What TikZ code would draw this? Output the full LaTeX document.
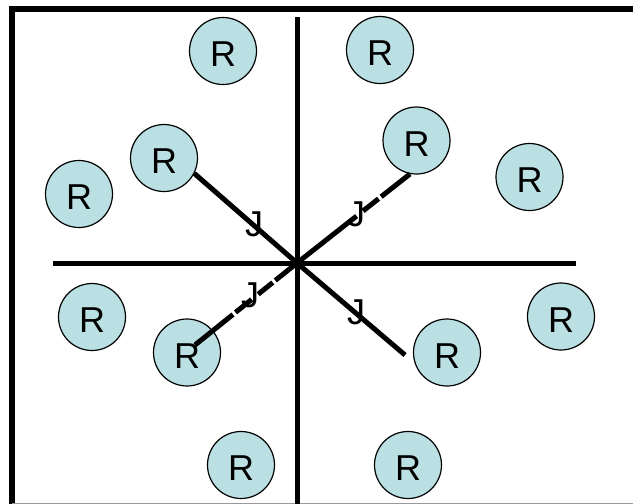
\documentclass[tikz,border=0pt]{standalone}
\usepackage{fontspec}
\setmainfont{Liberation Sans}
\usetikzlibrary{calc}
\definecolor{ringfill}{HTML}{BBE0E3}
\definecolor{rule}{HTML}{999999}
\begin{document}
\begin{tikzpicture}[x=1pt,y=-1pt,
  ring/.style={circle, draw=black, line width=1.2pt, fill=ringfill,
    minimum size=67pt, inner sep=0pt, font=\fontsize{36}{36}\selectfont,
    text height=31pt, text depth=0pt},
  frameline/.style={line width=6pt, line join=miter},
  axisline/.style={line width=5pt},
  bond/.style={line width=5pt},
  jlabel/.style={inner sep=0pt, font=\fontsize{36}{36}\selectfont},
  gap/.style={white, line width=6pt}]
\useasboundingbox (0,0) rectangle (633,504);

% frame
\coordinate (fbl) at (12,504);
\coordinate (ftl) at (12,9);
\coordinate (ftr) at (633,9);
\draw[frameline] (fbl) -- (ftl) -- (ftr);
\coordinate (bl) at (12,503.5);
\coordinate (br) at (633,503.5);
\draw[rule, line width=1pt] (bl) -- (br);

% axes
\coordinate (ctr) at (297,263);
\coordinate (vt) at (297,17);
\coordinate (vb) at (297,504);
\coordinate (hl) at (53,263);
\coordinate (hr) at (576,263);
\draw[axisline] (vt) -- (vb);
\draw[axisline] (hl) -- (hr);

% circles
\node[ring] (c1)  at (223,51)    {R};
\node[ring] (c2)  at (164,158)   {R};
\node[ring] (c3)  at (79,194)    {R};
\node[ring] (c4)  at (380,50)    {R};
\node[ring] (c5)  at (416.5,140.5) {R};
\node[ring] (c6)  at (529.5,177) {R};
\node[ring] (c7)  at (92,317)    {R};
\node[ring] (c8)  at (187,352.5) {R};
\node[ring] (c9)  at (241,465)   {R};
\node[ring] (c10) at (561,316.5) {R};
\node[ring] (c11) at (447,352.5) {R};
\node[ring] (c12) at (408,465)   {R};

% bonds
\coordinate (e8) at (195,345);
\coordinate (e11) at (405,355);
\draw[bond] (ctr) -- (c2.-27);
\draw[bond] (ctr) -- (c5.-101);
\draw[bond] (ctr) -- (e8);
\draw[bond] (ctr) -- (e11);

% breaks in the two rising bonds
\draw[gap] ($(ctr)!76pt!(c5.-101)$) -- ($(ctr)!84pt!(c5.-101)$);
\draw[gap] ($(ctr)!104pt!(c5.-101)$) -- ($(ctr)!107pt!(c5.-101)$);
\draw[gap] ($(ctr)!28pt!(e8)$) -- ($(ctr)!31pt!(e8)$);
\draw[gap] ($(ctr)!50pt!(e8)$) -- ($(ctr)!58pt!(e8)$);
\draw[gap] ($(ctr)!79pt!(e8)$) -- ($(ctr)!82pt!(e8)$);

% bond labels
\node[jlabel] (j1) at (254,224) {J};
\node[jlabel] (j2) at (356,214) {J};
\node[jlabel] (j3) at (250,295) {J};
\node[jlabel] (j4) at (356,312) {J};
\end{tikzpicture}
\end{document}
